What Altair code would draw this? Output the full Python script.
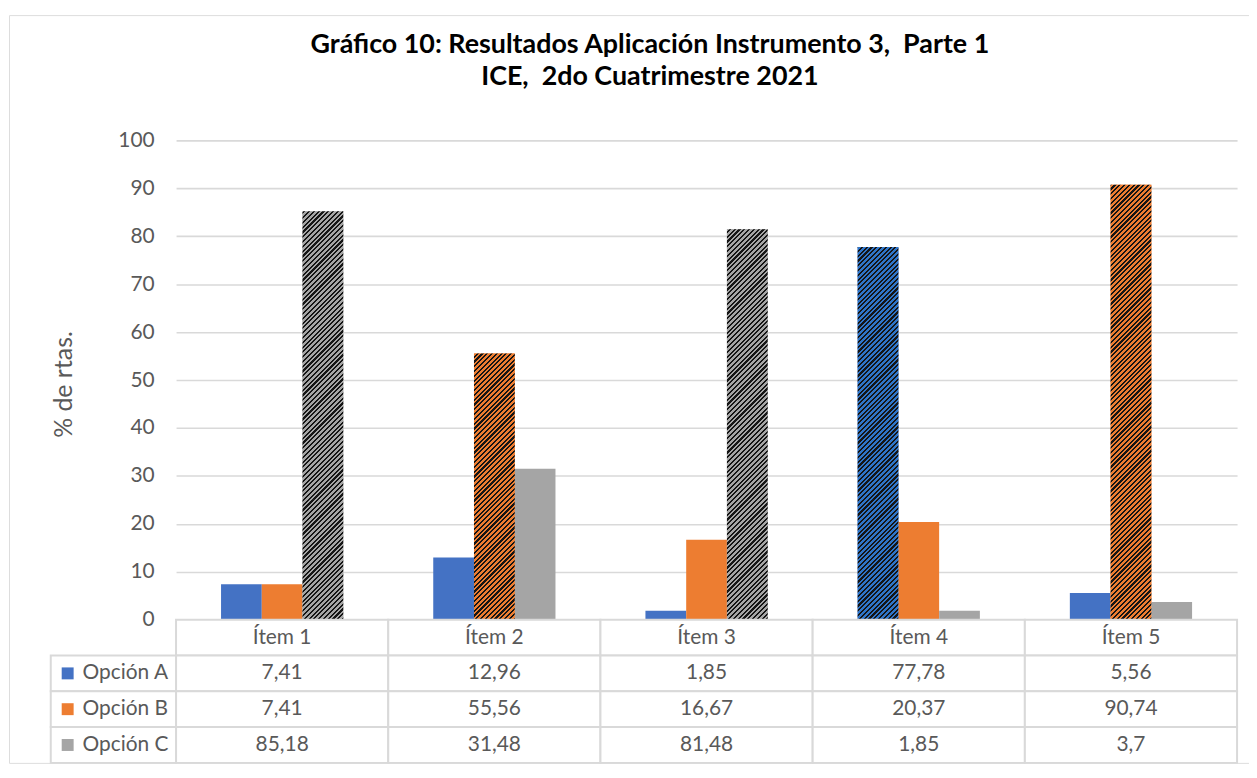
import math
import altair as alt
import pandas as pd

# ---------------- data ----------------
items = ["Ítem 1", "Ítem 2", "Ítem 3", "Ítem 4", "Ítem 5"]
options = ["Opción A", "Opción B", "Opción C"]
opcion_a = [7.41, 12.96, 1.85, 77.78, 5.56]
opcion_b = [7.41, 55.56, 16.67, 20.37, 90.74]
opcion_c = [85.18, 31.48, 81.48, 1.85, 3.7]
correcta = ["Opción C", "Opción B", "Opción C", "Opción A", "Opción B"]
title_lines = ["Gráfico 10: Resultados Aplicación Instrumento 3,\u00a0 Parte 1",
               "ICE,\u00a0 2do Cuatrimestre 2021"]
y_title = "% de rtas."
y_ticks = [0, 10, 20, 30, 40, 50, 60, 70, 80, 90, 100]

# ---------------- style / layout ----------------
FONT = "Lato"
TXT = "#595959"
GRID = "#D9D9D9"
colors = ["#4472C4", "#ED7D31", "#A5A5A5"]
pattern_base = {"Opción A": "#2F75C8", "Opción B": "#ED7D31", "Opción C": "#A5A5A5"}
DARK = "#151515"
DARK_FRAC = 0.45

W, H = 1247, 752
X0, X1 = 168, 1235          # plot area horizontal range (inside the frame)
Y0, Y100 = 608, 126         # value axis pixel range
ROW_H = 36
rows = ["hdr"] + options
ROW_RANGE = [608, 608 + ROW_H * len(rows)]
LEG_RANGE = [42, 168]
P_IN = 0.424
SEG = 5.0       # pattern tile height, in value units
EPS = 0.15      # small overlap between tiles

series = {"Opción A": opcion_a, "Opción B": opcion_b, "Opción C": opcion_c}

recs = []
for i, it in enumerate(items):
    for opt in options:
        recs.append({"item": it, "opcion": opt, "valor": series[opt][i]})
df = pd.DataFrame(recs)


def fmt(v):
    return f"{v:g}".replace(".", ",")


tab = []
for i, it in enumerate(items):
    tab.append({"item": it, "fila": "hdr", "texto": it})
    for opt in options:
        tab.append({"item": it, "fila": opt, "texto": fmt(series[opt][i])})
tab_df = pd.DataFrame(tab)

leg_df = pd.DataFrame({"col": ["leg"] * 3, "fila": options, "texto": options, "opcion": options})

# ---------------- bars ----------------
x_bar = alt.X("item:N", sort=items, axis=None,
              scale=alt.Scale(domain=items, range=[X0, X1], paddingInner=P_IN, paddingOuter=P_IN / 2))
xoff = alt.XOffset("opcion:N", sort=options,
                   scale=alt.Scale(domain=options, paddingInner=0, paddingOuter=0))
y_axis = alt.Axis(values=y_ticks, offset=-X0, ticks=False, domain=False, grid=True,
                  gridColor=GRID, gridWidth=1.6, labelFont=FONT, labelFontSize=21,
                  labelColor=TXT, labelPadding=22, title=y_title, titleFont=FONT,
                  titleFontSize=25, titleFontWeight="normal", titleColor=TXT,
                  titlePadding=42, titleY=371)
y_scale = alt.Scale(domain=[0, 100], range=[Y0, Y100])
y_bar = alt.Y("valor:Q", scale=y_scale, axis=y_axis)
color_scale = alt.Scale(domain=options, range=colors)

plain = alt.Chart(df).mark_bar().encode(
    x=x_bar, xOffset=xoff, y=y_bar,
    color=alt.Color("opcion:N", scale=color_scale, legend=None),
)

step = (X1 - X0) / len(items)
bar_w = step * (1 - P_IN) / len(options)
ppu = (Y0 - Y100) / 100.0
PERIOD = SEG * ppu / 5.0


def stripes(base, w, h, top_value):
    """diagonal '/' stripes, phase locked to the screen so tiles join seamlessly"""
    L = w + h
    y_top = (100 - top_value) * ppu
    phase = (-y_top) % PERIOD
    s = phase - PERIOD
    stops = []
    while s < L:
        a = max(s, 0.0)
        m = min(max(s + DARK_FRAC * PERIOD, 0.0), L)
        b = min(s + PERIOD, L)
        if m > a:
            stops += [alt.GradientStop(offset=a / L, color=DARK),
                      alt.GradientStop(offset=m / L, color=DARK)]
        if b > m:
            stops += [alt.GradientStop(offset=m / L, color=base),
                      alt.GradientStop(offset=b / L, color=base)]
        s += PERIOD
    d = w * w + h * h
    return alt.LinearGradient(gradient="linear", stops=stops,
                              x1=0, y1=0, x2=w * L / d, y2=h * L / d)


y_lo = alt.Y("lo:Q", scale=y_scale, axis=y_axis)
y_hi = alt.Y2("hi:Q")

# full tiles: one layer per colour (all tiles of a colour share one gradient)
tiles_full = {opt: [] for opt in options}
tiles_top = []
for i, it in enumerate(items):
    opt = correcta[i]
    v = series[opt][i]
    n = int(math.floor(v / SEG))
    for k in range(n):
        tiles_full[opt].append({"item": it, "opcion": opt, "lo": k * SEG,
                                "hi": min((k + 1) * SEG + EPS, v)})
    if v - n * SEG > 1e-9:
        tiles_top.append({"item": it, "opcion": opt, "lo": n * SEG, "hi": v})

pattern_layers = []
for opt in options:
    if not tiles_full[opt]:
        continue
    g = stripes(pattern_base[opt], bar_w, (SEG + EPS) * ppu, SEG + EPS)
    pattern_layers.append(
        alt.Chart(pd.DataFrame(tiles_full[opt])).mark_bar(fill=g).encode(
            x=x_bar, xOffset=xoff, y=y_lo, y2=y_hi)
    )
for t in tiles_top:
    g = stripes(pattern_base[t["opcion"]], bar_w, (t["hi"] - t["lo"]) * ppu, t["hi"])
    pattern_layers.append(
        alt.Chart(pd.DataFrame([t])).mark_bar(fill=g).encode(
            x=x_bar, xOffset=xoff, y=y_lo, y2=y_hi)
    )

bars = alt.layer(plain, *pattern_layers)

# ---------------- data table ----------------
x_tab = alt.X("item:N", sort=items, axis=None,
              scale=alt.Scale(domain=items, range=[X0, X1], paddingInner=0, paddingOuter=0))
y_tab = alt.Y("fila:N", sort=rows, axis=None,
              scale=alt.Scale(domain=rows, range=ROW_RANGE, paddingInner=0, paddingOuter=0))
cells = alt.Chart(tab_df).mark_rect(fill="white", stroke=GRID, strokeWidth=2).encode(x=x_tab, y=y_tab)
cell_txt = alt.Chart(tab_df).mark_text(font=FONT, fontSize=21, color=TXT).encode(
    x=x_tab, y=y_tab, text="texto:N")
table = alt.layer(cells, cell_txt)

leg_scale = alt.Scale(domain=["leg"], range=LEG_RANGE, paddingInner=0, paddingOuter=0)
x_leg = alt.X("col:N", axis=None, bandPosition=0, scale=leg_scale)
x_leg_c = alt.X("col:N", axis=None, scale=leg_scale)
y_leg = alt.Y("fila:N", sort=rows, axis=None,
              scale=alt.Scale(domain=rows, range=ROW_RANGE, paddingInner=0, paddingOuter=0))
leg_cells = alt.Chart(leg_df).mark_rect(fill="white", stroke=GRID, strokeWidth=2).encode(x=x_leg_c, y=y_leg)
leg_sq = alt.Chart(leg_df).mark_square(size=144, opacity=1, xOffset=17).encode(
    x=x_leg, y=y_leg, color=alt.Color("opcion:N", scale=color_scale, legend=None))
leg_txt = alt.Chart(leg_df).mark_text(font=FONT, fontSize=21, color=TXT, align="left", xOffset=32).encode(
    x=x_leg, y=y_leg, text="texto:N")
legend_col = alt.layer(leg_cells, leg_sq, leg_txt)

chart = alt.layer(bars, table, legend_col).resolve_scale(
    x="independent", y="independent"
).properties(
    width=W, height=H,
    padding={"left": 1, "top": 5, "right": 0, "bottom": 0},
    title=alt.TitleParams(text=title_lines, font=FONT, fontSize=27, fontWeight="bold",
                          color="#000000", anchor="middle", offset=-76, dx=21, lineHeight=32),
).configure_view(stroke=GRID, strokeWidth=2).configure(background="white")

chart.save("out.html", embed_options={"renderer": "svg", "actions": False})
